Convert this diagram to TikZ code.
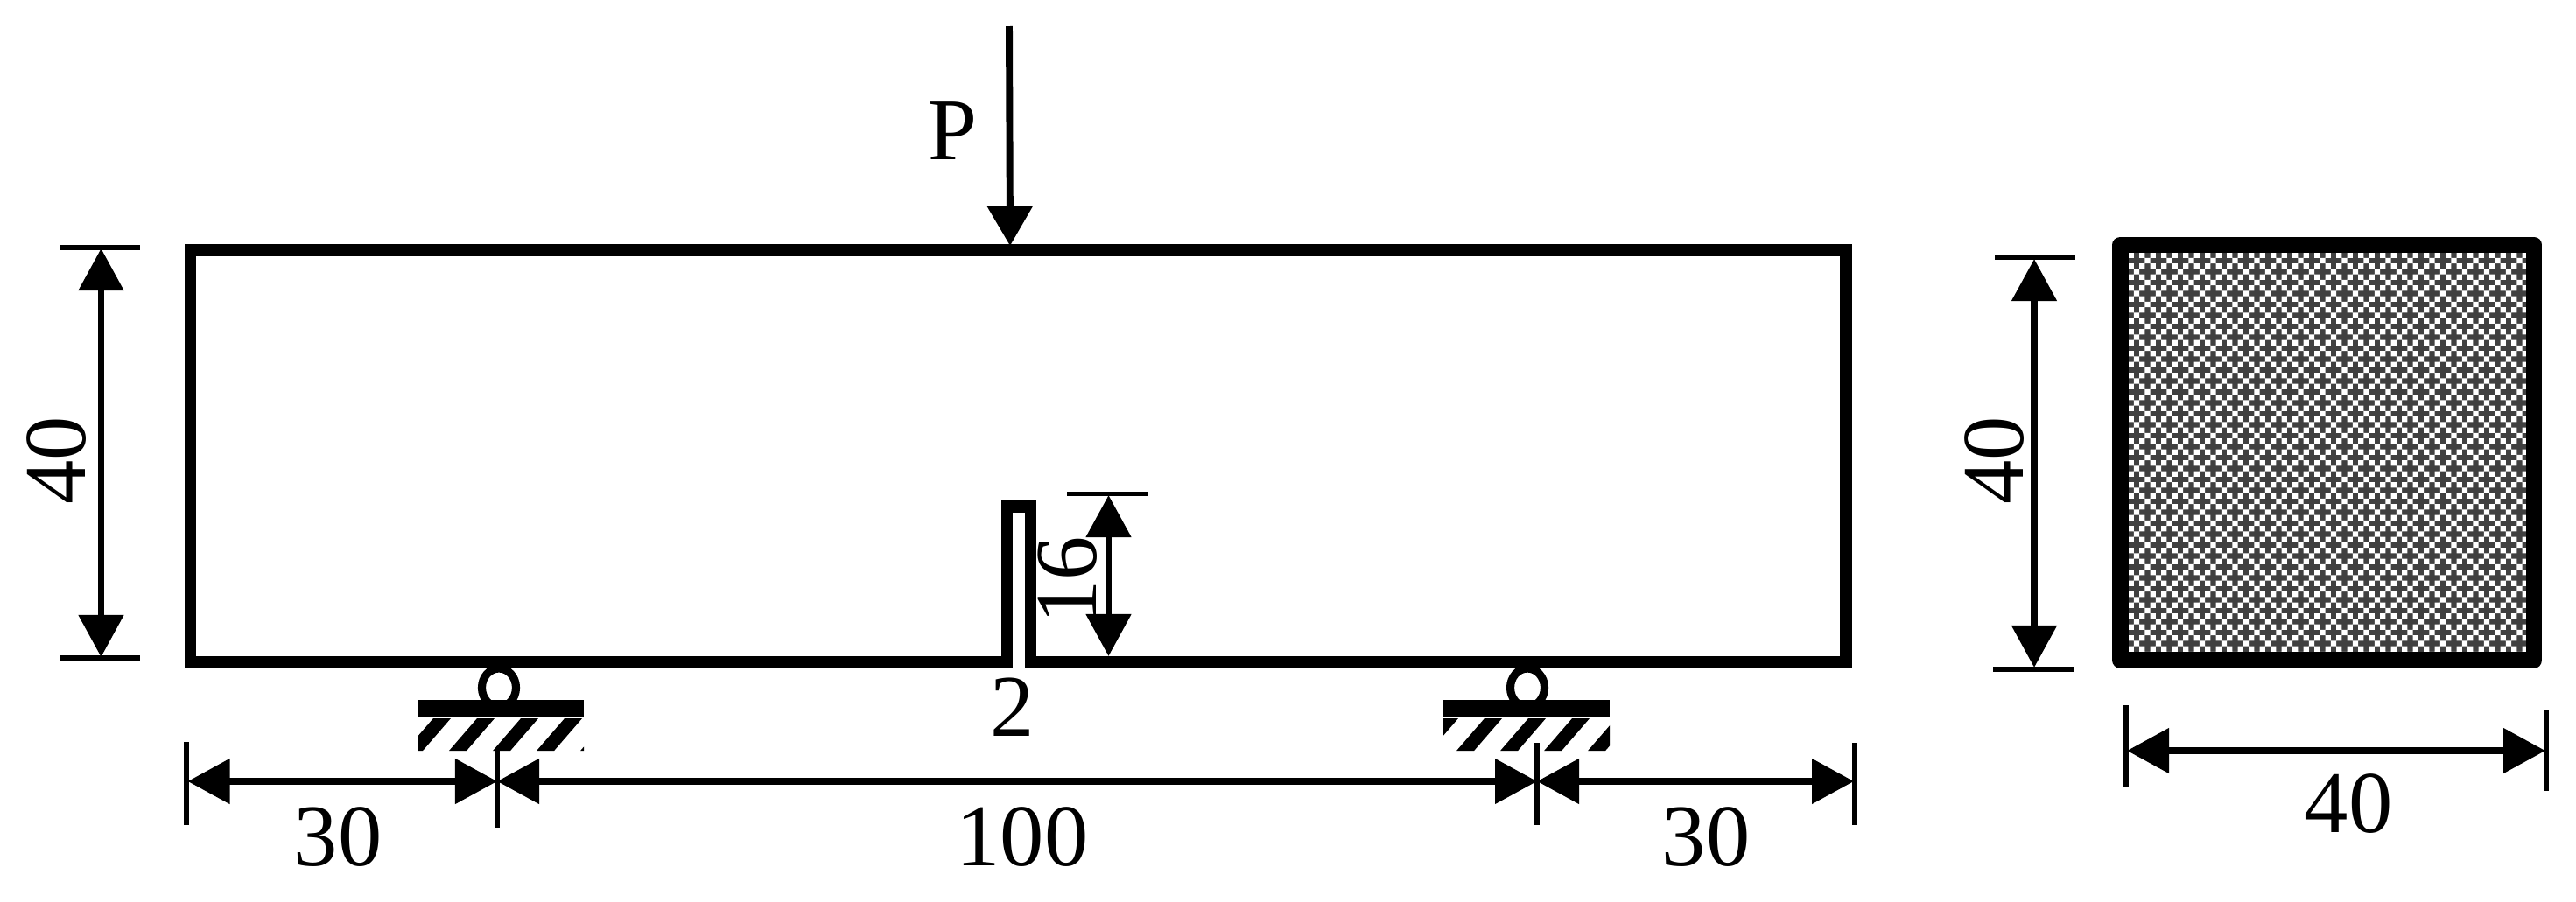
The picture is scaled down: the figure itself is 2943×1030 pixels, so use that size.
\documentclass[tikz,border=0pt]{standalone}
\usepackage{fontspec}
\setmainfont{Liberation Serif}
\usetikzlibrary{arrows.meta,calc}
\definecolor{weave}{HTML}{404040}
\tikzset{
  outline/.style={line width=3.84pt,line join=miter},
  tick/.style={line width=1.5pt},
  dimline/.style={line width=2.25pt,{Triangle[length=0.48cm,width=0.5cm]}-{Triangle[length=0.48cm,width=0.5cm]}},
  forceline/.style={line width=2.25pt,-{Triangle[length=0.45cm,width=0.5cm]}},
  size/.style={inner sep=0pt,font=\fontsize{28.6}{28.6}\selectfont}
}
\begin{document}
\begin{tikzpicture}[x=0.01cm,y=-0.01cm]
\useasboundingbox (0,0) rectangle (2943,1030);
% supports
\foreach \sx/\pl/\pr/\hx in {570/477/667/495,1745/1649/1839/1646}{
  \draw[line width=2.6pt] (\sx,786) ellipse [x radius=19.5,y radius=22];
  \fill (\pl,800) rectangle (\pr,819.5);
  \begin{scope}
    \clip (\pl,821) rectangle (\pr,858);
    \foreach \k in {0,...,4}
      \fill[xshift=\k*0.5cm] (\hx,821) -- ++(20,0) -- ++(-32,37) -- ++(-20,0) -- cycle;
  \end{scope}
}
% beam with notch
\draw[outline] (217.5,286)coordinate(A) -- (2109,286)coordinate(B) -- (2109,756.5)coordinate(C) -- (1177.5,756.5) -- (1177.5,579)coordinate(N) -- (1150.5,579) -- (1150.5,756.5) -- (217.5,756.5)coordinate(D) -- cycle;
% load
\draw[forceline] (1153,30)coordinate(P0) -- (1154,281)coordinate(P1);
\node[size] (load) at (1088,150) {P};
% height of the beam
\draw[tick] (69,283)coordinate(T1) -- (160,283);
\draw[tick] (69,752)coordinate(T2) -- (160,752);
\draw[dimline] (115.5,284)coordinate(H1) -- (115.5,751)coordinate(H2);
\node[size,rotate=90] (beamheight) at (65,526) {40};
% notch depth and width
\draw[tick] (1219,564.5)coordinate(T3) -- (1311,564.5);
\draw[dimline] (1266.5,566)coordinate(N1) -- (1266.5,750)coordinate(N2);
\node[size,rotate=90] (notchdepth) at (1220,663) {16};
\node[size] (notchwidth) at (1157,808) {2};
% spans along the bottom
\draw[tick] (213,848)coordinate(S0) -- (213,943);
\draw[tick] (568,857)coordinate(S1) -- (568,946);
\draw[tick] (1756,849)coordinate(S2) -- (1756,943);
\draw[tick] (2118.5,849)coordinate(S3) -- (2118.5,943);
\draw[dimline] (214.5,893) -- (568,893);
\draw[dimline] (568,893) -- (1756,893);
\draw[dimline] (1756,893) -- (2118,893);
\node[size] (leftspan) at (386,957) {30};
\node[size] (midspan) at (1168,957) {100};
\node[size] (rightspan) at (1949,957) {30};
% cross section
\fill[weave] (2422,280) rectangle (2895,755);
\begin{scope}
  \clip (2422,280) rectangle (2895,755);
  \fill[white] \foreach \i in {0,...,18}{\foreach \j in {0,...,18}{
    ({2431.7+25*\i},{288.7+25*\j}) rectangle ++(6.25,6.25)
    ({2444.2+25*\i},{288.7+25*\j}) rectangle ++(6.25,6.25)
    ({2450.45+25*\i},{294.95+25*\j}) rectangle ++(6.25,6.25)
    ({2431.7+25*\i},{301.2+25*\j}) rectangle ++(6.25,6.25)
    ({2444.2+25*\i},{301.2+25*\j}) rectangle ++(6.25,6.25)
    ({2437.95+25*\i},{307.45+25*\j}) rectangle ++(6.25,6.25)
  }};
\end{scope}
\draw[line width=5.26pt,line join=round] (2422.5,280)coordinate(Q1) rectangle (2895,754.5)coordinate(Q2);
% size of the section
\draw[tick] (2279,294)coordinate(T4) -- (2371,294);
\draw[tick] (2277,765)coordinate(T5) -- (2369,765);
\draw[dimline] (2324,296) -- (2324,763);
\node[size,rotate=90] (sectionheight) at (2279,526) {40};
\draw[tick] (2429,806)coordinate(T6) -- (2429,899);
\draw[tick] (2909.5,812)coordinate(T7) -- (2909.5,904);
\draw[dimline] (2430,858) -- (2908,858);
\node[size] (sectionwidth) at (2683,919) {40};
\end{tikzpicture}
\end{document}
